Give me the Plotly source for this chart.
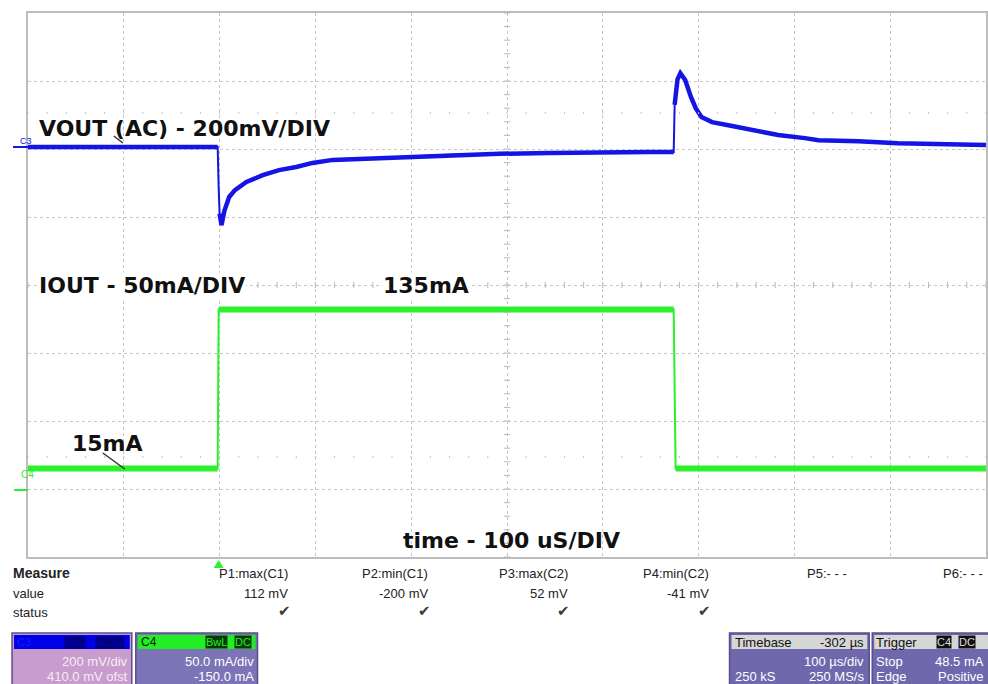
import plotly.graph_objects as go

# ---------------- data ----------------
# time in microseconds (trigger at 0, 100 us/div), VOUT (AC) in mV, IOUT in mA
vout_t = [-200, -2, -1, 0, 2, 5, 10, 16, 28, 45, 62, 80, 97, 118, 146, 188, 240,
          292, 344, 396, 448, 474, 475, 478, 481, 486, 492, 497, 503, 514, 531, 555,
          583, 611, 625, 667, 708, 760, 800]
vout_mv = [-4, -4, -120, -200, -234, -192, -151, -131, -107, -87, -72, -63, -51,
           -42, -39, -33, -27, -24, -22, -19, -19, -19, 120, 195, 213, 193, 143, 110,
           84, 69, 60, 46, 31, 22, 16, 13, 7, 4, 2]

iout_t = [-200, -2, -1, 474, 476, 800]
iout_ma = [15, 15, 132, 132, 15, 15]

measure_names = ["P1:max(C1)", "P2:min(C1)", "P3:max(C2)", "P4:min(C2)", "P5:- - -", "P6:- - -"]
measure_values = ["112 mV", "-200 mV", "52 mV", "-41 mV", "", ""]
measure_status = [True, True, True, True, False, False]

# ---------------- layout helpers ----------------
W, H = 988, 684
L, R, T, B = 28, 988, 13, 557


def px(x):
    return (x - L) / (R - L)


def py(y):
    return (B - y) / (B - T)


def flat_parts(t, v, thr):
    """Same points, with steep edges broken out (they are drawn thin on the scope)."""
    xs, ys = [t[0]], [v[0]]
    for i in range(1, len(t)):
        if abs(v[i] - v[i - 1]) / (t[i] - t[i - 1]) > thr:
            xs.append(None)
            ys.append(None)
        xs.append(t[i])
        ys.append(v[i])
    return xs, ys


BLUE = "#1414e4"
GREEN = "#2cf02c"

fig = go.Figure()

# thin full traces (edges) + thick noisy flat parts
fig.add_trace(go.Scatter(x=vout_t, y=vout_mv, mode="lines", yaxis="y",
                         line=dict(color=BLUE, width=2), hoverinfo="skip"))
bx, by = flat_parts(vout_t, vout_mv, 30)
fig.add_trace(go.Scatter(x=bx, y=by, mode="lines", yaxis="y", connectgaps=False,
                         line=dict(color=BLUE, width=4.5), hoverinfo="skip"))
fig.add_trace(go.Scatter(x=iout_t, y=iout_ma, mode="lines", yaxis="y2",
                         line=dict(color=GREEN, width=2), hoverinfo="skip"))
gx, gy = flat_parts(iout_t, iout_ma, 30)
fig.add_trace(go.Scatter(x=gx, y=gy, mode="lines", yaxis="y2", connectgaps=False,
                         line=dict(color=GREEN, width=6), hoverinfo="skip"))

shapes = []
annotations = []

# centre cross tick marks and dotted rows
for i in range(51):
    t = -200 + i * 20
    shapes.append(dict(type="line", xref="x", yref="paper", x0=t, x1=t,
                       y0=py(282), y1=py(288), line=dict(color="#b8b8b8", width=1)))
for j in range(41):
    yp = j / 40
    shapes.append(dict(type="line", xref="paper", yref="paper", x0=px(505), x1=px(511),
                       y0=yp, y1=yp, line=dict(color="#b8b8b8", width=1)))
for i in range(51):
    t = -200 + i * 20
    for yy in (113, 457):
        shapes.append(dict(type="line", xref="x", yref="paper", x0=t, x1=t,
                           y0=py(yy - 1), y1=py(yy + 1), line=dict(color="#c4c4c4", width=1)))

# pointer lines
shapes.append(dict(type="line", xref="paper", yref="paper", x0=px(114), y0=py(136),
                   x1=px(123), y1=py(143), line=dict(color="#333333", width=1.5)))
shapes.append(dict(type="line", xref="paper", yref="paper", x0=px(103), y0=py(453),
                   x1=px(125), y1=py(469), line=dict(color="#333333", width=1.5)))

# channel markers on the left
shapes.append(dict(type="line", xref="paper", yref="paper", x0=px(13), x1=px(28),
                   y0=py(147), y1=py(147), line=dict(color=BLUE, width=2)))
shapes.append(dict(type="line", xref="paper", yref="paper", x0=px(14), x1=px(28),
                   y0=py(490), y1=py(490), line=dict(color=GREEN, width=2)))
annotations.append(dict(x=px(18), y=py(134), xref="paper", yref="paper", text="C3",
                        showarrow=False, font=dict(family="Liberation Sans", size=9, color=BLUE)))
annotations.append(dict(x=px(19), y=py(482), xref="paper", yref="paper", text="C4",
                        showarrow=False, font=dict(family="Liberation Sans", size=10, color=GREEN)))

# trigger marker
shapes.append(dict(type="path", xref="paper", yref="paper",
                   path=f"M {px(214)} {py(568)} L {px(224)} {py(568)} L {px(219)} {py(560)} Z",
                   fillcolor=GREEN, line=dict(width=0)))

# big labels
big = dict(family="DejaVu Sans", size=22, color="#111111", weight="bold")
for text, x, y, bg in [("VOUT (AC) - 200mV/DIV", 38, 128, None),
                       ("IOUT - 50mA/DIV", 38, 285, "white"),
                       ("135mA", 383, 285, "white"),
                       ("15mA", 71, 443, None),
                       ("time - 100 uS/DIV", 403, 540, None)]:
    a = dict(x=px(x), y=py(y), xref="paper", yref="paper", text=text, showarrow=False,
             xanchor="left", yanchor="middle", font=big, borderpad=0)
    if bg:
        a["bgcolor"] = bg
    annotations.append(a)

# measure panel
small = dict(family="Liberation Sans", size=13, color="#222222")
annotations.append(dict(x=px(11), y=py(583), xref="paper", yref="paper", text="Measure",
                        showarrow=False, xanchor="left", font=dict(family="Liberation Sans", size=14,
                                                                   color="#222222", weight="bold")))
annotations.append(dict(x=px(11), y=py(603), xref="paper", yref="paper", text="value",
                        showarrow=False, xanchor="left", font=small))
annotations.append(dict(x=px(11), y=py(622), xref="paper", yref="paper", text="status",
                        showarrow=False, xanchor="left", font=small))
col_right = [291, 431, 571, 712, 851, 987]
for name, val, st, xr in zip(measure_names, measure_values, measure_status, col_right):
    annotations.append(dict(x=px(xr), y=py(583), xref="paper", yref="paper", text=name,
                            showarrow=False, xanchor="right", font=small))
    if val:
        annotations.append(dict(x=px(xr), y=py(603), xref="paper", yref="paper", text=val,
                                showarrow=False, xanchor="right", font=small))
    if st:
        annotations.append(dict(x=px(xr - 6), y=py(622), xref="paper", yref="paper", text="✔",
                                showarrow=False, xanchor="center",
                                font=dict(family="DejaVu Sans", size=15, color="#3a3a3a")))


def box(x0, x1, head_color, body_color):
    shapes.append(dict(type="rect", xref="paper", yref="paper", x0=px(x0), x1=px(x1),
                       y0=py(690), y1=py(633), fillcolor=body_color,
                       line=dict(color="#5b4d8c", width=1.5)))
    shapes.append(dict(type="rect", xref="paper", yref="paper", x0=px(x0 + 2), x1=px(x1 - 2),
                       y0=py(649), y1=py(635), fillcolor=head_color, line=dict(width=0)))


def txt(text, x, y, anchor, color, size=13, bg=None, family="Liberation Sans"):
    a = dict(x=px(x), y=py(y), xref="paper", yref="paper", text=text, showarrow=False,
             xanchor=anchor, yanchor="middle", font=dict(family=family, size=size, color=color),
             borderpad=0)
    if bg:
        a["bgcolor"] = bg
    annotations.append(a)


# C3 box
box(12, 132, "#0000e8", "#c89ccc")
txt("C3", 16, 642, "left", "#1a1aff", 11)
txt("BwL", 64, 642, "left", "#0000b0", 10, "#00007a")
txt("AC1M", 95, 642, "left", "#0000b0", 10, "#00007a")
txt("200 mV/div", 129, 661, "right", "#f6ecf6")
txt("410.0 mV ofst", 129, 676, "right", "#f6ecf6")

# C4 box
box(136, 258, "#22ee22", "#7c74b6")
txt("C4", 140, 642, "left", "#111111", 12)
txt("BwL", 205, 642, "left", "#22ee22", 11, "#0a3a0a")
txt("DC", 234, 642, "left", "#22ee22", 11, "#0a3a0a")
txt("50.0 mA/div", 255, 661, "right", "#ffffff")
txt("-150.0 mA", 255, 676, "right", "#ffffff")

# Timebase box
box(731, 871, "#d6d6d6", "#6f68ad")
txt("Timebase", 735, 642, "left", "#111111")
txt("-302 µs", 867, 642, "right", "#111111")
txt("100 µs/div", 867, 661, "right", "#ffffff")
txt("250 kS", 735, 676, "left", "#ffffff")
txt("250 MS/s", 867, 676, "right", "#ffffff")

# Trigger box
box(874, 992, "#d6d6d6", "#6f68ad")
txt("Trigger", 877, 642, "left", "#111111")
txt("C4", 938, 642, "left", "#dddddd", 11, "#111111")
txt("DC", 960, 642, "left", "#dddddd", 11, "#111111")
txt("Stop", 877, 661, "left", "#ffffff")
txt("48.5 mA", 987, 661, "right", "#ffffff")
txt("Edge", 877, 676, "left", "#ffffff")
txt("Positive", 987, 676, "right", "#ffffff")

fig.update_layout(
    width=W, height=H,
    margin=dict(l=L, r=W - R, t=T, b=H - B, pad=0),
    paper_bgcolor="white", plot_bgcolor="white",
    showlegend=False,
    xaxis=dict(range=[-200, 800], tick0=-200, dtick=100, showgrid=True, griddash="dot",
               gridcolor="#c6c6c6", gridwidth=1, zeroline=False, showticklabels=False,
               ticks="", showline=True, mirror=True, linecolor="#bdbdbd", linewidth=1.5,
               fixedrange=True),
    # VOUT axis: 200 mV/div, 410 mV offset -> grid every division
    yaxis=dict(range=[-1210, 390], tick0=-1210, dtick=200, showgrid=True, griddash="dot",
               gridcolor="#c6c6c6", gridwidth=1, zeroline=False, showticklabels=False,
               ticks="", showline=True, mirror=True, linecolor="#bdbdbd", linewidth=1.5,
               fixedrange=True),
    # IOUT axis: 50 mA/div, -150 mA offset
    yaxis2=dict(range=[-50, 350], overlaying="y", showgrid=False, zeroline=False,
                showticklabels=False, ticks="", showline=False, fixedrange=True),
    shapes=shapes,
    annotations=annotations,
)

fig.write_html("out.html", config={"displayModeBar": False},
               post_script="document.body.style.margin='0';document.body.style.overflow='hidden';")
